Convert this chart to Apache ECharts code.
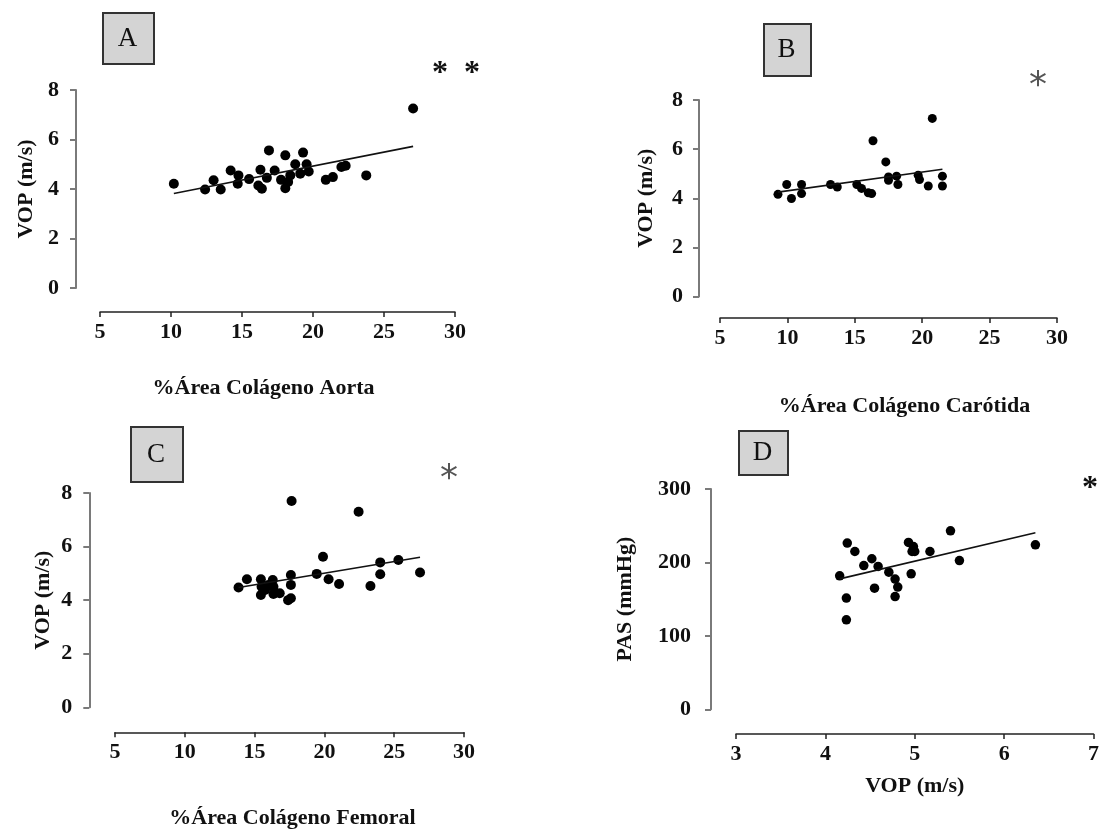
<!DOCTYPE html>
<html>
<head>
<meta charset="utf-8">
<title>VOP vs colágeno</title>
<script src="https://cdn.jsdelivr.net/npm/echarts@6/dist/echarts.min.js"></script>
<style>
  html, body { margin: 0; padding: 0; background: #fff; }
  #chart { width: 1102px; height: 832px; }
</style>
</head>
<body>
<div id="chart"></div>
<script>
// Panel A: VOP vs % collagen area, aorta
const aortaX = [10.2, 12.4, 13.0, 13.5, 14.2, 14.75, 14.7, 15.5, 16.3, 16.15, 16.4, 16.75, 16.9, 17.3, 17.75,
                18.05, 18.05, 18.25, 18.4, 18.75, 19.1, 19.3, 19.55, 19.7, 20.9, 21.4, 22.0, 22.3, 23.75, 27.05];
const aortaY = [4.21, 3.98, 4.35, 3.98, 4.75, 4.55, 4.21, 4.40, 4.78, 4.14, 4.01, 4.45, 5.56, 4.75, 4.37,
                5.36, 4.03, 4.28, 4.55, 5.0, 4.62, 5.47, 5.0, 4.71, 4.37, 4.48, 4.89, 4.94, 4.55, 7.25];
const aortaFit = [0.1128, 2.67];   // slope, intercept

// Panel B: VOP vs % collagen area, carotid
const carotidX = [9.3, 9.95, 10.3, 11.05, 11.05, 13.2, 13.7, 15.15, 15.5, 16.0, 16.25, 16.35, 17.3, 17.5,
                  17.5, 18.1, 18.2, 19.7, 19.8, 20.45, 20.75, 21.5, 21.5];
const carotidY = [4.16, 4.56, 3.99, 4.56, 4.19, 4.56, 4.46, 4.56, 4.40, 4.22, 4.19, 6.34, 5.48, 4.87,
                  4.73, 4.90, 4.56, 4.94, 4.76, 4.50, 7.25, 4.90, 4.50];
const carotidFit = [0.0763, 3.54];

// Panel C: VOP vs % collagen area, femoral
const femoralX = [13.85, 14.45, 15.45, 15.5, 15.45, 15.75, 16.0, 16.3, 16.35, 16.35, 16.8, 17.4, 17.6, 17.6,
                  17.6, 17.65, 19.45, 19.9, 20.3, 21.05, 22.45, 23.3, 24.0, 24.0, 25.3, 26.85];
const femoralY = [4.47, 4.78, 4.78, 4.5, 4.19, 4.38, 4.57, 4.75, 4.5, 4.23, 4.26, 4.0, 4.07, 4.94,
                  4.57, 7.70, 4.98, 5.62, 4.78, 4.6, 7.30, 4.53, 5.41, 4.97, 5.5, 5.03];
const femoralFit = [0.087, 3.265];

// Panel D: PAS vs VOP
const vopX = [4.16, 4.245, 4.33, 4.235, 4.235, 4.43, 4.52, 4.59, 4.55, 4.71, 4.78, 4.81, 4.78, 4.93,
              4.985, 4.97, 5.0, 4.96, 5.17, 5.40, 5.50, 6.35];
const pasY = [181.8, 226.4, 214.9, 151.4, 121.8, 195.8, 205, 194.5, 165, 186.8, 177.3, 166.4, 153.5, 227.2,
              221.7, 214.9, 214.9, 184.5, 214.9, 243.1, 202.6, 224];
const vopFit = [28.7, 58.2];

// Axis titles and panel letters
const panelLetters = ['A', 'B', 'C', 'D'];
const xTitles = ['%Área Colágeno Aorta', '%Área Colágeno Carótida', '%Área Colágeno Femoral', 'VOP (m/s)'];
const yTitles = ['VOP (m/s)', 'VOP (m/s)', 'VOP (m/s)', 'PAS (mmHg)'];
const significance = ['*  *', '*', '*', '*'];

const FONT = '"Liberation Serif", "DejaVu Serif", serif';

// Layout of each panel (pixels)
const layouts = [
  { left: 100, right: 455, top: 90,  bottom: 288,   yOff: 24,  xOff: 24,   yGap: 39, xGap: 65, xShift: -14, yMargin: 17 },
  { left: 720, right: 1057, top: 100, bottom: 296.5, yOff: 21,  xOff: 21.5, yGap: 42, xGap: 77, xShift: 16,  yMargin: 16 },
  { left: 115, right: 464, top: 493, bottom: 707.3, yOff: 25.7, xOff: 25,  yGap: 35, xGap: 75, xShift: 3,   yMargin: 17 },
  { left: 736, right: 1097, top: 489, bottom: 709.3, yOff: 25,  xOff: 24.7, yGap: 75, xGap: 41, xShift: 0,   yMargin: 20 }
];
const xRanges = [[5, 30, 5], [5, 30, 5], [5, 30, 5], [3, 7, 1]];
const yRanges = [[0, 8, 2], [0, 8, 2], [0, 8, 2], [0, 300, 100]];
const xsets = [aortaX, carotidX, femoralX, vopX];
const ysets = [aortaY, carotidY, femoralY, pasY];
const fits = [aortaFit, carotidFit, femoralFit, vopFit];
const dotSizes = [10, 9, 10, 9.5];

const grids = [], xAxes = [], yAxes = [], series = [];

layouts.forEach((L, i) => {
  grids.push({ left: L.left, top: L.top, width: L.right - L.left, height: L.bottom - L.top });
  const pad = L.xShift >= 0 ? [0, 0, 0, 2 * L.xShift] : [0, -2 * L.xShift, 0, 0];
  xAxes.push({
    gridIndex: i, type: 'value',
    min: xRanges[i][0], max: xRanges[i][1], interval: xRanges[i][2],
    offset: L.xOff,
    name: xTitles[i], nameLocation: 'middle', nameGap: L.xGap,
    nameTextStyle: { fontFamily: FONT, fontWeight: 'bold', fontSize: 22, color: '#111', padding: pad },
    axisLine: { show: true, onZero: false, lineStyle: { color: '#222', width: 1.5 } },
    axisTick: { show: true, length: 5, lineStyle: { color: '#222', width: 1.5 } },
    axisLabel: { fontFamily: FONT, fontWeight: 'bold', fontSize: 22, color: '#111', margin: 9 },
    splitLine: { show: false }
  });
  yAxes.push({
    gridIndex: i, type: 'value',
    min: yRanges[i][0], max: yRanges[i][1], interval: yRanges[i][2],
    offset: L.yOff,
    name: yTitles[i], nameLocation: 'middle', nameGap: L.yGap, nameRotate: 90,
    nameTextStyle: { fontFamily: FONT, fontWeight: 'bold', fontSize: 22, color: '#111' },
    axisLine: { show: true, onZero: false, lineStyle: { color: '#7a7a7a', width: 2 } },
    axisTick: { show: true, length: 6, lineStyle: { color: '#7a7a7a', width: 2 } },
    axisLabel: { fontFamily: FONT, fontWeight: 'bold', fontSize: 22, color: '#111', margin: L.yMargin },
    splitLine: { show: false }
  });

  const xs = xsets[i], ys = ysets[i];
  series.push({
    type: 'scatter', xAxisIndex: i, yAxisIndex: i,
    symbol: 'circle', symbolSize: dotSizes[i],
    itemStyle: { color: '#000', opacity: 1 },
    data: xs.map((x, k) => [x, ys[k]]),
    silent: true
  });
  // fitted regression line over the observed x range
  const x0 = Math.min(...xs), x1 = Math.max(...xs);
  const [m, b] = fits[i];
  series.push({
    type: 'line', xAxisIndex: i, yAxisIndex: i,
    symbol: 'none', silent: true,
    lineStyle: { color: '#111', width: 1.6 },
    data: [[x0, m * x0 + b], [x1, m * x1 + b]]
  });
});

// Panel letter boxes and significance marks
const boxes = [
  { x: 102, y: 12, w: 51, h: 51 },
  { x: 763, y: 23, w: 47, h: 52 },
  { x: 130, y: 426, w: 52, h: 55 },
  { x: 738, y: 430, w: 49, h: 44 }
];
const stars = [
  { x: 456, y: 74, color: '#111', bold: true, size: 32 },
  { x: 1038, y: 87, color: '#555', bold: false, size: 36 },
  { x: 449, y: 480, color: '#555', bold: false, size: 36 },
  { x: 1090, y: 489, color: '#111', bold: true, size: 32 }
];
const graphic = [];
boxes.forEach((B, i) => {
  graphic.push({
    type: 'rect', left: B.x, top: B.y,
    shape: { width: B.w, height: B.h },
    style: { fill: '#d4d4d4', stroke: '#333', lineWidth: 2 }
  });
  graphic.push({
    type: 'text', x: B.x + B.w / 2, y: B.y + B.h / 2 + 1,
    style: { text: panelLetters[i], fill: '#111', font: '27px ' + FONT, textAlign: 'center', textVerticalAlign: 'middle' }
  });
});
stars.forEach((S, i) => {
  graphic.push({
    type: 'text', x: S.x, y: S.y,
    style: {
      text: significance[i], fill: S.color,
      font: (S.bold ? 'bold ' : '') + S.size + 'px ' + (S.bold ? FONT : '"DejaVu Sans", sans-serif'),
      textAlign: 'center', textVerticalAlign: 'middle'
    }
  });
});

const chart = echarts.init(document.getElementById('chart'), null, { renderer: 'canvas' });
chart.setOption({
  animation: false,
  backgroundColor: '#fff',
  grid: grids, xAxis: xAxes, yAxis: yAxes, series: series,
  graphic: graphic
});
</script>
</body>
</html>
